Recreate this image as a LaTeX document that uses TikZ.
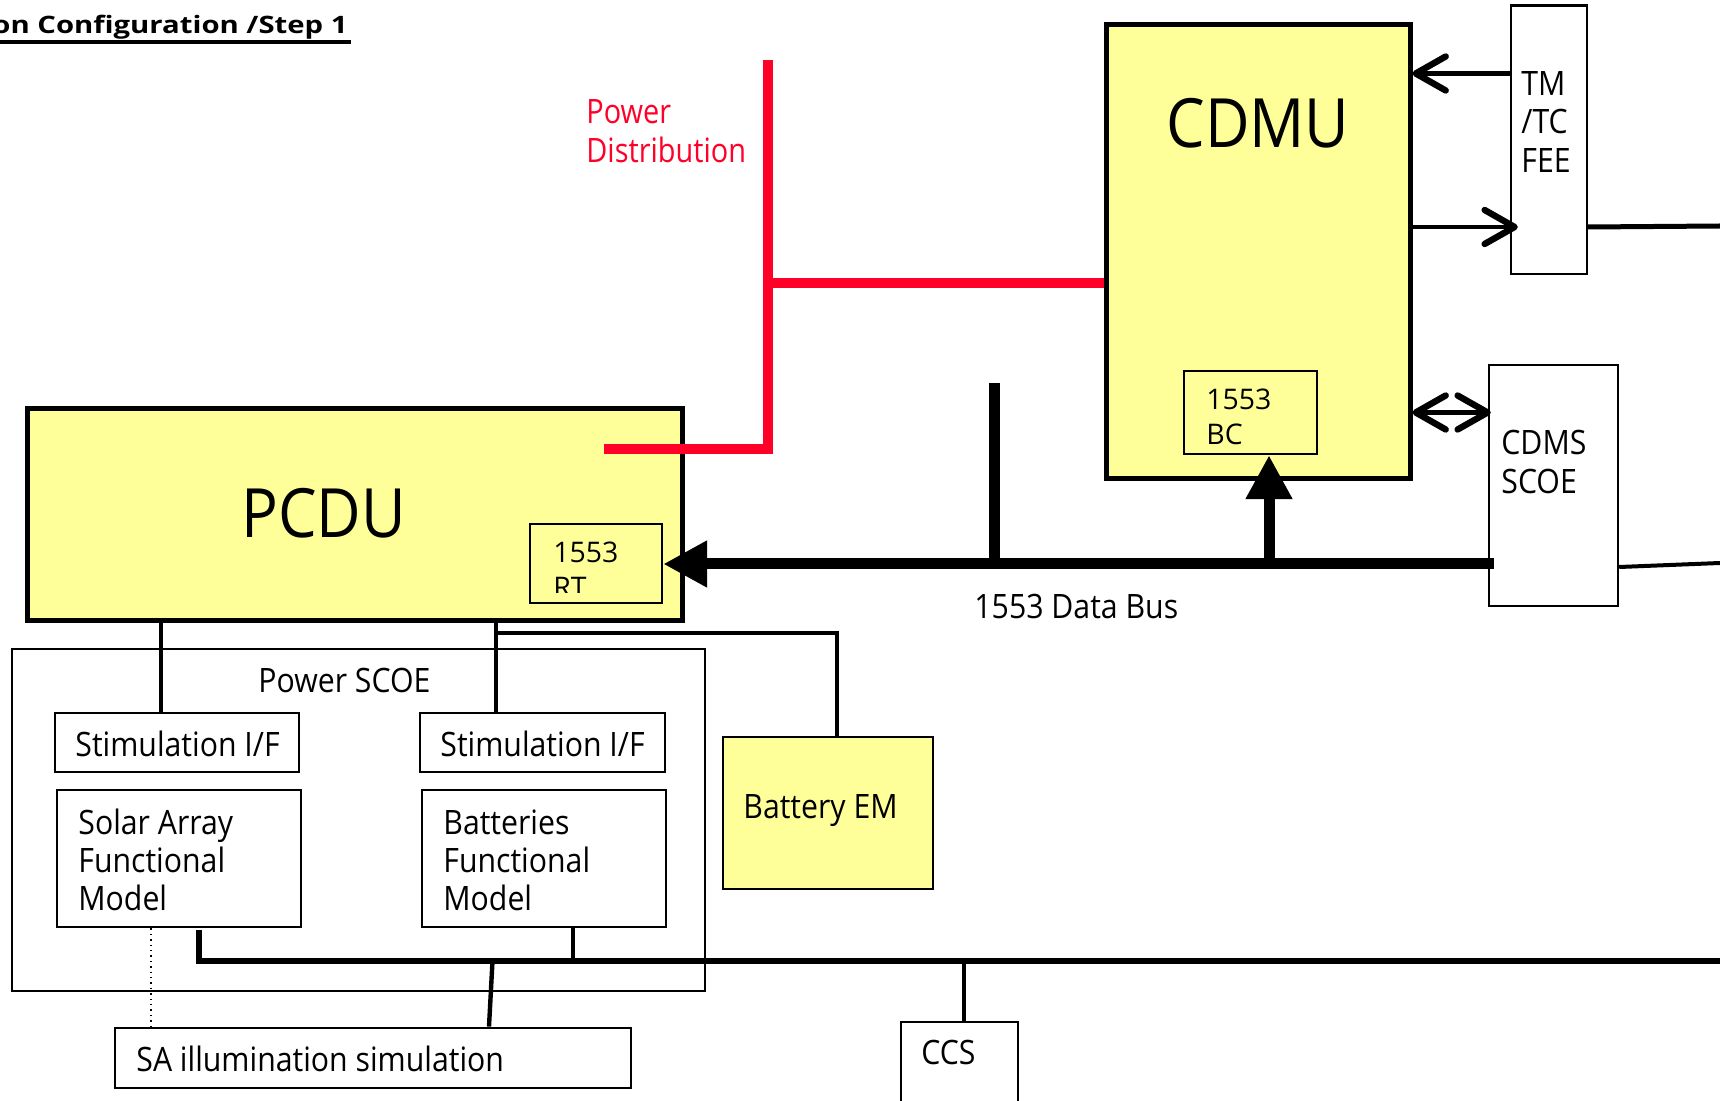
\documentclass[tikz,border=0pt]{standalone}
\usepackage{fontspec}
\setmainfont{Open Sans}[FakeStretch=0.9]
\newfontfamily\headfont{Open Sans}[FakeStretch=1.22]
\newfontfamily\cardfont{Open Sans}
\newfontfamily\notefont{Open Sans}[FakeStretch=0.86]
\usetikzlibrary{arrows.meta,fit}
\definecolor{unityellow}{RGB}{255,255,153}
\definecolor{powerred}{RGB}{255,0,40}
\tikzset{
  unitbox/.style={draw, fill=unityellow, inner sep=0pt, line width=2.5pt},
  cardbox/.style={draw, fill=unityellow, inner sep=0pt, line width=1.2pt},
  eqbox/.style={draw, inner sep=0pt, line width=1.2pt},
  modbox/.style={draw, inner sep=0pt, line width=1.4pt},
  lbl/.style={inner sep=0pt, anchor=base west, font=\fontsize{16.8}{19.2}\selectfont},
  cardlbl/.style={inner sep=0pt, anchor=base west, font=\cardfont\fontsize{14.2}{17.5}\selectfont},
  biglbl/.style={inner sep=0pt, anchor=base west, font=\fontsize{34}{40}\selectfont},
  pwr/.style={draw=powerred, line width=4.75pt},
  databus/.style={line width=5.5pt},
  wire/.style={line width=2.2pt},
  thinwire/.style={line width=1.6pt},
  gndbus/.style={line width=3pt},
  opentip/.tip={Straight Barb[length=15pt, width=17pt, round, line width=3.2pt]},
  barb/.style={line width=2.3pt, -opentip},
  dblbarb/.style={line width=2.3pt, opentip-opentip},
  bigtip/.style={-{Triangle[length=22pt, width=22pt]}},
}
\begin{document}
\begin{tikzpicture}[x=0.5pt, y=-0.5pt]
\clip (0,0) rectangle (1720,1101);
\fill[white] (0,0) rectangle (1720,1101);

% heading
\node[inner sep=0pt, anchor=base east, font=\headfont\bfseries\fontsize{12}{14}\selectfont] (heading) at (348,33.5) {on Configuration /Step 1};
\draw[line width=1.65pt] (-5,42) -- (351,42);

% on-board units
\node[unitbox, fit={(1106,25) (1410,479)}] (cdmu) {};
\node[unitbox, fit={(27,409) (682,621)}] (pcdu) {};
\node[cardbox, fit={(1184,371) (1317,454)}] (bc) {};
\node[cardbox, fit={(530,524) (662,603)}] (rt) {};
\node[biglbl] (cdmuT) at (1166,148) {CDMU};
\node[biglbl] (pcduT) at (241,537.5) {PCDU};
\begin{scope}
  \clip (1184,371) rectangle (1317,446);
  \node[cardlbl] (bcT) at (1206,410) {\vtop{\hbox{1553}\hbox{BC}}};
\end{scope}
\begin{scope}
  \clip (530,524) rectangle (662,593);
  \node[cardlbl] (rtT) at (553,562.7) {\vtop{\hbox{1553}\hbox{RT}}};
\end{scope}

% ground equipment
\node[eqbox, fit={(1511,5.5) (1587,274)}] (tmtc) {};
\node[lbl] (tmtcT) at (1521,95.5) {\vtop{\hbox{TM}\hbox{/TC}\hbox{FEE}}};
\node[eqbox, fit={(1489,365) (1618,606)}] (cdms) {};
\node[lbl] (cdmsT) at (1501,455) {\vtop{\hbox{CDMS}\hbox{SCOE}}};
\node[eqbox, fit={(12,649) (705,991)}] (pscoe) {};
\node[lbl] (pscoeT) at (258,692) {Power SCOE};
\node[modbox, fit={(55,713) (299,772)}] (stimA) {};
\node[lbl] (stimAT) at (75,756) {Stimulation I/F};
\node[modbox, fit={(420,713) (665,772)}] (stimB) {};
\node[lbl] (stimBT) at (440,756) {Stimulation I/F};
\node[modbox, fit={(57,790) (301,927)}] (safm) {};
\node[lbl] (safmT) at (78,834) {\vtop{\hbox{Solar Array}\hbox{Functional}\hbox{Model}}};
\node[modbox, fit={(422,790) (666,927)}] (batfm) {};
\node[lbl] (batfmT) at (443,834) {\vtop{\hbox{Batteries}\hbox{Functional}\hbox{Model}}};
\node[cardbox, line width=1.1pt, fit={(723,737) (933,889)}] (batem) {};
\node[lbl] (batemT) at (743,818) {Battery EM};
\node[modbox, fit={(115,1028) (631,1088)}] (saill) {};
\node[lbl] (saillT) at (136,1071) {SA illumination simulation};
\node[eqbox, fit={(901,1022) (1018,1130)}] (ccs) {};
\node[lbl] (ccsT) at (921,1064) {CCS};

% power distribution
\node[lbl, text=powerred, font=\notefont\fontsize{16.8}{19.2}\selectfont] (pdT) at (586,124) {\vtop{\hbox{Power}\hbox{Distribution}}};
\coordinate (pdTop) at (768,60);
\coordinate (pdFeed) at (604,449);
\coordinate (pdTap) at (768,283);
\draw[pwr] (pdFeed) -- (pdFeed -| pdTop) -- (pdTop);
\draw[pwr] (pdTap) -- (pdTap -| cdmu.west);

% 1553 data bus
\coordinate (busR) at (1494,564);
\coordinate (bcTap) at (1269,564);
\coordinate (stubTop) at (994,383);
\draw[databus, bigtip] (busR) -- (busR -| rt.east);
\draw[databus, bigtip] (bcTap) -- (bcTap |- bc.south);
\draw[databus] (stubTop) -- (stubTop |- busR);
\node[lbl] (busT) at (974,618) {1553 Data Bus};

% TM/TC links
\coordinate (tcY) at (0,73.5);
\coordinate (tmY) at (0,227);
\coordinate (tmOut) at (1720,226);
\draw[barb] (tcY -| tmtc.west) -- (tcY -| cdmu.east);
\draw[barb, shorten >=-4pt] (tmY -| cdmu.east) -- (tmY -| tmtc.west);
\draw[line width=2.5pt] (tmY -| tmtc.east) -- (tmOut);

% CDMS SCOE links
\coordinate (scY) at (0,412.5);
\coordinate (cdY) at (0,567);
\coordinate (cdmsOut) at (1720,563);
\draw[dblbarb, shorten >=-1.5pt] (scY -| cdmu.east) -- (scY -| cdms.west);
\draw[line width=2pt] (cdY -| cdms.east) -- (cdmsOut);

% PCDU to power SCOE and battery
\coordinate (tapA) at (161,0);
\coordinate (tapB) at (496,0);
\coordinate (batCorner) at (837,633);
\draw[wire] (tapA |- pcdu.south) -- (tapA |- stimA.north);
\draw[wire] (tapB |- pcdu.south) -- (tapB |- stimB.north);
\draw[wire] (batCorner -| tapB) -- (batCorner) -- (batCorner |- batem.north);

% ground line
\coordinate (saTap) at (199,930);
\coordinate (gndR) at (1720,961);
\coordinate (bfTap) at (573,0);
\coordinate (illTap) at (492.5,961);
\coordinate (illX) at (489,0);
\coordinate (ccsTap) at (964,961);
\coordinate (dotX) at (151,0);
\draw[gndbus] (saTap) -- (saTap |- gndR) -- (gndR);
\draw[thinwire] (bfTap |- batfm.south) -- (bfTap |- gndR);
\draw[wire] (illTap) -- (illX |- saill.north);
\draw[wire] (ccsTap) -- (ccsTap |- ccs.north);
\draw[line width=0.7pt, dotted] (dotX |- safm.south) -- (dotX |- saill.north);
\end{tikzpicture}
\end{document}
